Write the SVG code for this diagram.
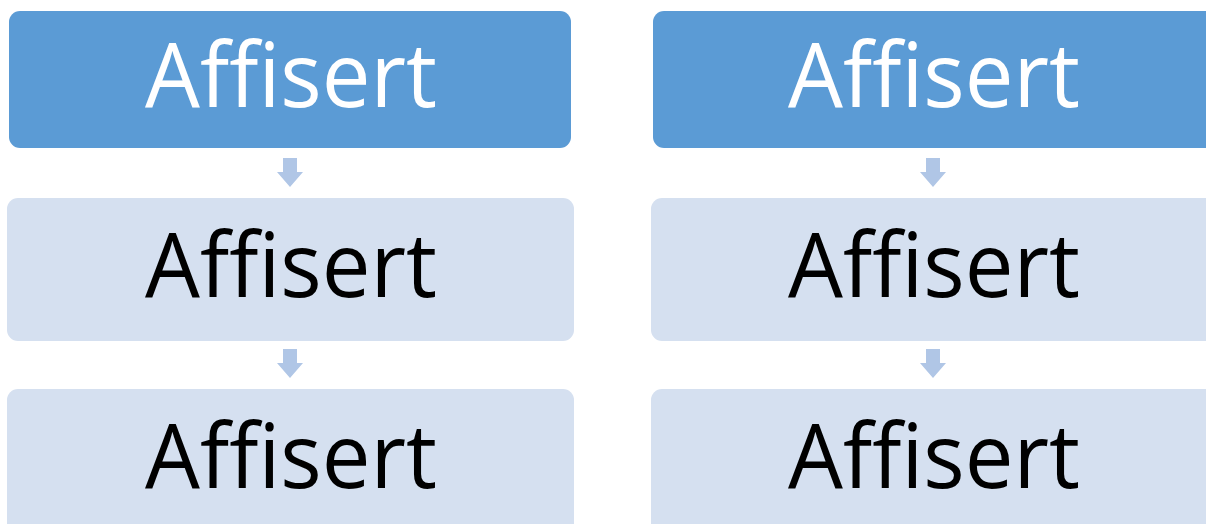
<svg xmlns="http://www.w3.org/2000/svg" width="1206" height="524" viewBox="0 0 1206 524">
<style>
.dark{fill:#5B9BD5}
.light{fill:#D5E0F0}
.t{font-family:"Open Sans","Noto Sans",sans-serif;font-size:89px;text-anchor:middle}
.tw{fill:#FFFFFF}
.tb{fill:#000000}
.arr{fill:#B0C6E6}
</style>
<rect width="1206" height="524" fill="#FFFFFF"/>
<g id="L1"><rect class="dark" x="9" y="11" width="562" height="137" rx="11"/><text class="t tw" x="291" y="107" textLength="292" lengthAdjust="spacingAndGlyphs">Affisert</text></g>
<g id="L2"><rect class="light" x="7" y="198" width="567" height="143" rx="11"/><text class="t tb" x="291" y="297" textLength="292" lengthAdjust="spacingAndGlyphs">Affisert</text></g>
<g id="L3"><rect class="light" x="7" y="389" width="567" height="150" rx="11"/><text class="t tb" x="291" y="488" textLength="292" lengthAdjust="spacingAndGlyphs">Affisert</text></g>
<g id="R1"><rect class="dark" x="653" y="11" width="580" height="137" rx="11"/><text class="t tw" x="934" y="107" textLength="292" lengthAdjust="spacingAndGlyphs">Affisert</text></g>
<g id="R2"><rect class="light" x="651" y="198" width="580" height="143" rx="11"/><text class="t tb" x="934" y="297" textLength="292" lengthAdjust="spacingAndGlyphs">Affisert</text></g>
<g id="R3"><rect class="light" x="651" y="389" width="580" height="150" rx="11"/><text class="t tb" x="934" y="488" textLength="292" lengthAdjust="spacingAndGlyphs">Affisert</text></g>
<g id="connectors">
<path class="arr" d="M283 158 H297 V172 H303 L290 187 L277 172 H283 Z"/>
<path class="arr" d="M283 349 H297 V363 H303 L290 378 L277 363 H283 Z"/>
<path class="arr" d="M926 158 H940 V172 H946 L933 187 L920 172 H926 Z"/>
<path class="arr" d="M926 349 H940 V363 H946 L933 378 L920 363 H926 Z"/>
</g>
</svg>
